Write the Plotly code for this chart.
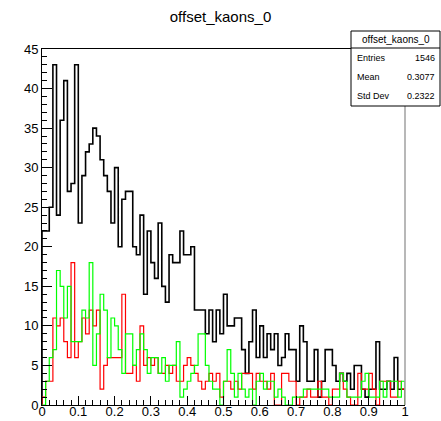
import numpy as np
import plotly.graph_objects as go

# 100 bins on [0, 1]
bin_lo, bin_hi, n_bins = 0.0, 1.0, 100

all_kaons = [
    22, 22, 25, 43, 24, 36, 41, 27, 28, 43,
    23, 29, 32, 33, 35, 34, 31, 29, 27, 23,
    30, 20, 26, 27, 27, 20, 19, 24, 14, 22,
    18, 16, 23, 15, 13, 19, 18, 18, 22, 19,
    19, 20, 12, 12, 12, 9, 12, 8, 12, 9,
    14, 10, 10, 11, 11, 7, 4, 8, 12, 6,
    10, 6, 9, 7, 9, 5, 6, 9, 7, 7,
    3, 10, 8, 3, 3, 7, 1, 3, 7, 7,
    5, 3, 4, 3, 4, 2, 5, 5, 2, 1,
    2, 2, 8, 2, 2, 3, 2, 6, 2, 2,
]

red_kaons = [
    1, 3, 3, 11, 10, 11, 8, 6, 18, 6,
    8, 11, 9, 12, 10, 12, 2, 5, 6, 6,
    6, 6, 14, 4, 4, 5, 3, 10, 5, 6,
    5, 6, 4, 4, 5, 4, 5, 3, 3, 5,
    6, 5, 4, 3, 2, 3, 4, 3, 4, 1,
    3, 3, 2, 3, 2, 4, 4, 4, 2, 4,
    3, 3, 2, 4, 0, 0, 4, 4, 3, 3,
    0, 1, 1, 2, 1, 1, 3, 1, 1, 0,
    2, 2, 4, 2, 1, 0, 0, 4, 2, 2,
    4, 2, 0, 3, 3, 3, 1, 1, 3, 2,
]

green_kaons = [
    0, 3, 6, 7, 17, 15, 11, 15, 8, 8,
    8, 12, 11, 18, 5, 9, 14, 12, 6, 11,
    10, 7, 4, 9, 9, 5, 7, 9, 7, 4,
    6, 6, 4, 6, 3, 5, 5, 8, 1, 2,
    3, 4, 5, 9, 9, 5, 3, 2, 2, 0,
    3, 7, 4, 1, 4, 2, 1, 2, 0, 3,
    4, 2, 3, 3, 1, 2, 1, 0, 0, 1,
    1, 1, 2, 2, 2, 2, 2, 2, 2, 1,
    1, 1, 4, 3, 1, 1, 1, 1, 3, 4,
    1, 1, 1, 3, 1, 3, 3, 3, 1, 3,
]

hist_title = "offset_kaons_0"
stats_rows = [("Entries", "1546"), ("Mean", "0.3077"), ("Std Dev", "0.2322")]
x_ticks = [0, 0.1, 0.2, 0.3, 0.4, 0.5, 0.6, 0.7, 0.8, 0.9, 1]
x_tick_text = ["0", "0.1", "0.2", "0.3", "0.4", "0.5", "0.6", "0.7", "0.8", "0.9", "1"]
y_ticks = [0, 5, 10, 15, 20, 25, 30, 35, 40, 45]

edges = np.linspace(bin_lo, bin_hi, n_bins + 1)


def outline(counts):
    """Step outline of a histogram, closed down to zero at both ends."""
    xs = [edges[0]] + list(edges) + [edges[-1]]
    ys = [0] + list(counts) + [counts[-1], 0]
    return xs, ys


fig = go.Figure()
for counts, colour, width in [
    (all_kaons, "#000000", 1.6),
    (red_kaons, "#ff0000", 1.2),
    (green_kaons, "#00ff00", 1.2),
]:
    xs, ys = outline(counts)
    fig.add_trace(go.Scatter(
        x=xs, y=ys, mode="lines", line=dict(color=colour, width=width, shape="hv"),
        hoverinfo="skip", showlegend=False,
    ))

font_family = "Liberation Sans, Arial, sans-serif"

fig.update_layout(
    width=441, height=421,
    margin=dict(l=42, r=36, t=49, b=16),
    paper_bgcolor="white", plot_bgcolor="white",
    showlegend=False,
    font=dict(family=font_family, color="black"),
    title=dict(text=hist_title, x=0.5, xanchor="center", y=1 - 17 / 421, yanchor="middle",
               font=dict(size=15, family=font_family, color="black")),
)

fig.update_xaxes(
    range=[bin_lo, bin_hi], showgrid=False, zeroline=False, automargin=False,
    showline=True, linecolor="black", linewidth=1, mirror=True,
    ticks="inside", ticklen=9, tickcolor="black", tickwidth=1,
    tickvals=x_ticks, ticktext=x_tick_text, tickfont=dict(size=13),
    ticklabelstandoff=-6,
    minor=dict(ticks="inside", ticklen=5, dtick=0.02, tickcolor="black", showgrid=False),
)
fig.update_yaxes(
    range=[0, 45], showgrid=False, zeroline=False, automargin=False,
    showline=True, linecolor="black", linewidth=1,
    ticks="inside", ticklen=10, tickcolor="black", tickwidth=1,
    tickvals=y_ticks, tickfont=dict(size=13),
    minor=dict(ticks="inside", ticklen=5, dtick=1, tickcolor="black", showgrid=False),
)

# right edge of the frame
fig.add_shape(type="line", xref="paper", yref="paper", x0=1, x1=1, y0=0, y1=1,
              line=dict(color="#a0a0a0", width=1.5), layer="above")

# statistics box
pw, ph = 363.0, 356.0


def px(x):
    return (x - 42) / pw


def py(y):
    return (405 - y) / ph


box_l, box_r, box_t, box_b, box_sep = 351, 440, 31, 106, 48
fig.add_shape(type="rect", xref="paper", yref="paper",
              x0=px(box_l), x1=px(box_r), y0=py(box_b), y1=py(box_t),
              fillcolor="white", line=dict(color="black", width=1), layer="above")
fig.add_shape(type="line", xref="paper", yref="paper",
              x0=px(box_l), x1=px(box_r), y0=py(box_sep), y1=py(box_sep),
              line=dict(color="black", width=1), layer="above")
fig.add_annotation(xref="paper", yref="paper", x=px((box_l + box_r) / 2), y=py((box_t + box_sep) / 2),
                   text=hist_title, showarrow=False, xanchor="center", yanchor="middle",
                   font=dict(size=10, family=font_family, color="black"))
row_h = (box_b - box_sep) / len(stats_rows)
for i, (label, value) in enumerate(stats_rows):
    yc = py(box_sep + row_h * (i + 0.5))
    fig.add_annotation(xref="paper", yref="paper", x=px(box_l + 4), y=yc, text=label,
                       showarrow=False, xanchor="left", yanchor="middle",
                       font=dict(size=9, family=font_family, color="black"))
    fig.add_annotation(xref="paper", yref="paper", x=px(box_r - 3), y=yc, text=value,
                       showarrow=False, xanchor="right", yanchor="middle",
                       font=dict(size=9, family=font_family, color="black"))

fig.write_html("out.html")
